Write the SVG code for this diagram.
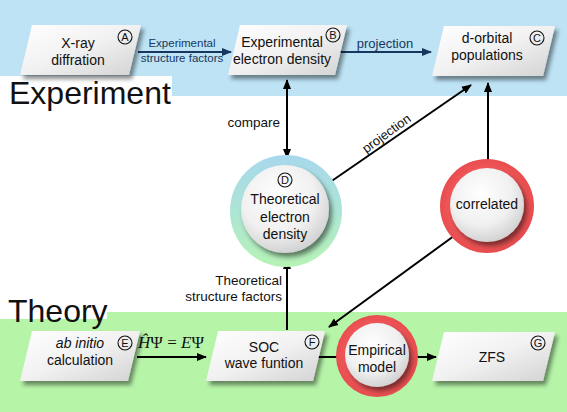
<svg xmlns="http://www.w3.org/2000/svg" width="567" height="412" viewBox="0 0 567 412">
<defs>
  <linearGradient id="gBox" x1="0" y1="0" x2="1" y2="1">
    <stop offset="0" stop-color="#ffffff"/>
    <stop offset="0.5" stop-color="#f1f1f1"/>
    <stop offset="1" stop-color="#d2d2d2"/>
  </linearGradient>
  <radialGradient id="gBall" cx="0.42" cy="0.35" r="0.7">
    <stop offset="0" stop-color="#ffffff"/>
    <stop offset="0.6" stop-color="#f0f0f0"/>
    <stop offset="1" stop-color="#cdcdcd"/>
  </radialGradient>
  <linearGradient id="gRingD" x1="0" y1="0" x2="0" y2="1">
    <stop offset="0" stop-color="#a7d8ec"/>
    <stop offset="0.5" stop-color="#ade5d6"/>
    <stop offset="1" stop-color="#b6f3b4"/>
  </linearGradient>
  <radialGradient id="gRed" cx="0.5" cy="0.5" r="0.5">
    <stop offset="0.75" stop-color="#f2595b"/>
    <stop offset="1" stop-color="#e84c4f"/>
  </radialGradient>
  <filter id="sh" x="-20%" y="-20%" width="150%" height="160%">
    <feDropShadow dx="3" dy="4" stdDeviation="2" flood-color="#000" flood-opacity="0.45"/>
  </filter>
  <filter id="shb" x="-20%" y="-20%" width="150%" height="150%">
    <feDropShadow dx="3" dy="4" stdDeviation="2.5" flood-color="#000" flood-opacity="0.5"/>
  </filter>
  <marker id="ah" viewBox="0 0 10 10" refX="9" refY="5" markerUnits="userSpaceOnUse" markerWidth="10" markerHeight="10" orient="auto-start-reverse">
    <path d="M0,1 L10,5 L0,9 z" fill="#000"/>
  </marker>
  <marker id="ahn" viewBox="0 0 10 10" refX="9" refY="5" markerUnits="userSpaceOnUse" markerWidth="10" markerHeight="10" orient="auto">
    <path d="M0,1 L10,5 L0,9 z" fill="#17375e"/>
  </marker>
  <style>
    text { font-family: "Liberation Sans", Arial, sans-serif; fill: #111; }
    text.math { font-family: "Liberation Serif", "DejaVu Serif", serif; font-size: 17px; text-anchor: middle; }
    .box { fill: url(#gBox); filter: url(#sh); }
    .t { font-size: 14px; text-anchor: middle; }
    .lbl { font-size: 13.5px; }
    .nav { fill: #17375e; }
    .cl { fill: none; stroke: #111; stroke-width: 1.1; }
    .cl-t { font-size: 11px; text-anchor: middle; }
    .title { font-size: 32px; }
    .ln { stroke: #000; stroke-width: 2; fill: none; }
    .lnn { stroke: #17375e; stroke-width: 2; fill: none; }
    .ball { fill: url(#gBall); filter: url(#shb); }
  </style>
</defs>

<!-- backgrounds -->
<rect x="0" y="0" width="567" height="412" fill="#ffffff"/>
<rect x="0" y="0" width="567" height="96" fill="#bde3f5"/>
<rect x="0" y="312" width="567" height="100" fill="#b6f4a8"/>
<rect x="0" y="76" width="172" height="21" fill="#ffffff"/>
<rect x="0" y="311" width="107" height="8" fill="#ffffff"/>
<text class="title" x="9" y="104">Experiment</text>
<text class="title" x="8" y="322">Theory</text>

<!-- connectors -->
<g id="connectors">
  <path class="lnn" d="M138,52 H231" marker-end="url(#ahn)"/>
  <path class="lnn" d="M340,52 H431" marker-end="url(#ahn)"/>
  <path class="ln" d="M287,80 V158" marker-start="url(#ah)" marker-end="url(#ah)"/>
  <path class="ln" d="M323,187 L471,85" marker-end="url(#ah)"/>
  <path class="ln" d="M488,160 V83" marker-end="url(#ah)"/>
  <path class="ln" d="M458,233 L329,327" marker-end="url(#ah)"/>
  <path class="ln" d="M287,330 V260" marker-end="url(#ah)"/>
  <path class="ln" d="M137,357 H206" marker-end="url(#ah)"/>
  <path class="ln" d="M312,357 H340"/>
  <path class="ln" d="M415,357 H436" marker-end="url(#ah)"/>
  <text class="nav" x="182" y="47" font-size="11.5" text-anchor="middle">Experimental</text>
  <text class="nav" x="182" y="62" font-size="11.5" text-anchor="middle">structure factors</text>
  <text class="nav" x="385" y="48" font-size="13" text-anchor="middle">projection</text>
  <text class="lbl" x="280" y="127" text-anchor="end">compare</text>
  <text class="lbl" x="282" y="285" text-anchor="end">Theoretical</text>
  <text class="lbl" x="282" y="301" text-anchor="end">structure factors</text>
  <text font-size="13" text-anchor="middle" transform="translate(389,137) rotate(-36)">projection</text>
  <text class="math" x="171" y="348"><tspan font-style="italic">Ĥ</tspan>Ψ = <tspan font-style="italic">E</tspan>Ψ</text>
</g>

<!-- nodes -->
<g id="A">
  <polygon class="box" points="32,25 141,25 129,75 20,75"/>
  <text class="t" x="78" y="48">X-ray</text>
  <text class="t" x="78" y="65">diffration</text>
  <circle class="cl" cx="125" cy="37" r="7"/>
  <text class="cl-t" x="125" y="41">A</text>
</g>
<g id="B">
  <polygon class="box" points="240,25 347,25 335,75 228,75"/>
  <text class="t" x="282" y="47">Experimental</text>
  <text class="t" x="282" y="64">electron density</text>
  <circle class="cl" cx="333" cy="35" r="7"/>
  <text class="cl-t" x="333" y="39">B</text>
</g>
<g id="C">
  <polygon class="box" points="444,26 555,26 543,76 432,76"/>
  <text class="t" x="487" y="43">d-orbital</text>
  <text class="t" x="487" y="60">populations</text>
  <circle class="cl" cx="537" cy="38" r="7"/>
  <text class="cl-t" x="537" y="42">C</text>
</g>
<g id="D">
  <circle cx="286" cy="211" r="56" fill="url(#gRingD)"/>
  <circle class="ball" cx="285" cy="209" r="44"/>
  <circle class="cl" cx="285" cy="180" r="7"/>
  <text class="cl-t" x="285" y="184">D</text>
  <text class="t" x="285" y="204">Theoretical</text>
  <text class="t" x="285" y="222">electron</text>
  <text class="t" x="285" y="239">density</text>
</g>
<g id="correlated">
  <circle cx="487" cy="206" r="47" fill="url(#gRed)"/>
  <circle class="ball" cx="487" cy="205" r="37"/>
  <text class="t" x="487" y="209">correlated</text>
</g>
<g id="E">
  <polygon class="box" points="32,331 140,331 128,381 20,381"/>
  <text class="t" x="80" y="348" font-style="italic">ab initio</text>
  <text class="t" x="80" y="365">calculation</text>
  <circle class="cl" cx="125" cy="343" r="7"/>
  <text class="cl-t" x="125" y="347">E</text>
</g>
<g id="F">
  <polygon class="box" points="218,331 325,331 313,381 206,381"/>
  <text class="t" x="264" y="352">SOC</text>
  <text class="t" x="264" y="368">wave funtion</text>
  <circle class="cl" cx="312" cy="342" r="7"/>
  <text class="cl-t" x="312" y="346">F</text>
</g>
<g id="Empirical">
  <circle cx="377" cy="356" r="41" fill="url(#gRed)"/>
  <circle class="ball" cx="377" cy="355" r="32"/>
  <text class="t" x="377" y="355">Empirical</text>
  <text class="t" x="377" y="372">model</text>
</g>
<g id="G">
  <polygon class="box" points="444,332 555,332 543,381 432,381"/>
  <text class="t" x="492" y="362">ZFS</text>
  <circle class="cl" cx="538" cy="343" r="7"/>
  <text class="cl-t" x="538" y="347">G</text>
</g>
</svg>
